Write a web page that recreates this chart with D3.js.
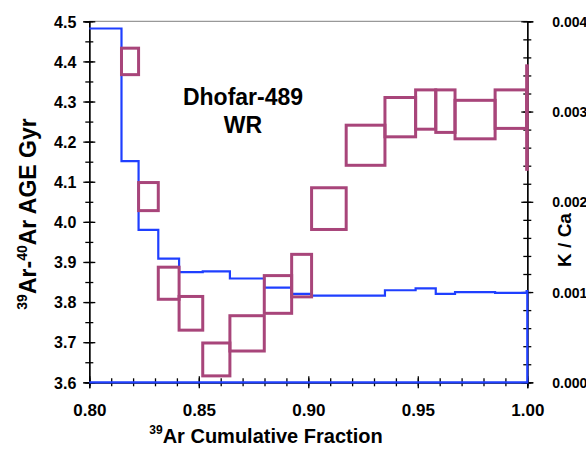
<!DOCTYPE html>
<html>
<head>
<meta charset="utf-8">
<script src="https://cdn.jsdelivr.net/npm/d3@7"></script>
<style>
  body { margin: 0; background: #fff; }
  svg { font-family: "Liberation Sans", Arial, sans-serif; font-weight: bold; }
</style>
</head>
<body>
<svg id="chart" width="586" height="449"></svg>
<script>
// step boundaries on the 39Ar cumulative fraction axis
const stepEdges = [0.800, 0.8147, 0.8225, 0.8315, 0.8410, 0.8518, 0.8642, 0.8799,
  0.8924, 0.9015, 0.9173, 0.9350, 0.9490, 0.9582, 0.9670, 0.9853, 0.9997, 1.000];
// K/Ca per step (right axis)
const kcaValues = [0.00392, 0.00245, 0.00169, 0.00137, 0.00122, 0.00123, 0.00115, 0.00105,
  0.00098, 0.00096, 0.00096, 0.00102, 0.00104, 0.00098, 0.00100, 0.00099, 0.00101];
// age (Gyr) and its error per step, first step has no age box
const ageValues = [null, 4.400, 4.063, 3.847, 3.772, 3.657, 3.722, 3.819, 3.866,
  4.033, 4.191, 4.261, 4.280, 4.276, 4.255, 4.281, 4.260];
const ageErrors = [null, 0.033, 0.035, 0.040, 0.042, 0.041, 0.044, 0.047, 0.053,
  0.052, 0.050, 0.049, 0.049, 0.053, 0.048, 0.048, 0.129];

const fracTicks = [0.80, 0.85, 0.90, 0.95, 1.00];
const ageTicks = [3.6, 3.7, 3.8, 3.9, 4.0, 4.1, 4.2, 4.3, 4.4, 4.5];
const kcaTicks = [0, 0.001, 0.002, 0.003, 0.004];

const svg = d3.select('#chart');
const mLeft = 89.3, mRight = 527.3, mTop = 21.3, mBottom = 382.3;

const x = d3.scaleLinear().domain([0.8, 1.0]).range([mLeft, mRight]);
const yAge = d3.scaleLinear().domain([3.6, 4.5]).range([mBottom, mTop]);
const yKca = d3.scaleLinear().domain([0, 0.004]).range([mBottom, mTop]);

// top frame line
svg.append('line')
  .attr('x1', mLeft).attr('x2', mRight).attr('y1', mTop).attr('y2', mTop)
  .attr('stroke', '#999').attr('stroke-width', 1.2);

// draws an axis whose ticks cross the line (both sides)
function crossAxis(axisFn, scale, values, size, fmt, transform) {
  const g = svg.append('g')
    .attr('transform', transform)
    .call(axisFn(scale).tickValues(values).tickSize(size).tickFormat(fmt || ''));
  g.attr('font-family', null);
  g.select('.domain').attr('stroke', '#000').attr('stroke-width', 1.3);
  g.selectAll('.tick line').attr('stroke', '#000').attr('stroke-width', 1.3);
  const vertical = axisFn === d3.axisLeft || axisFn === d3.axisRight;
  const sign = (axisFn === d3.axisLeft || axisFn === d3.axisTop) ? 1 : -1;
  g.selectAll('.tick line').attr(vertical ? 'x1' : 'y1', sign * size);
  return g;
}

// minor ticks
crossAxis(d3.axisBottom, x, x.ticks(20), 4, null, `translate(0,${mBottom})`);
crossAxis(d3.axisLeft, yAge, yAge.ticks(18), 4, null, `translate(${mLeft},0)`);
crossAxis(d3.axisRight, yKca, yKca.ticks(20), 4, null, `translate(${mRight},0)`);

// major ticks with labels
const xAxis = crossAxis(d3.axisBottom, x, fracTicks, 6, d3.format('.2f'), `translate(0,${mBottom})`);
xAxis.selectAll('.tick text')
  .attr('y', 34).attr('dy', 0).attr('font-size', 17).attr('fill', '#000');

const yAxis = crossAxis(d3.axisLeft, yAge, ageTicks, 6, d3.format('.1f'), `translate(${mLeft},0)`);
yAxis.selectAll('.tick text')
  .attr('x', -13).attr('dy', '0.36em').attr('font-size', 16).attr('fill', '#000');

const kAxis = crossAxis(d3.axisRight, yKca, kcaTicks, 6, d3.format('.3f'), `translate(${mRight},0)`);
kAxis.selectAll('.tick text')
  .attr('x', 25).attr('dy', '0.36em').attr('font-size', 14).attr('fill', '#000');

// K/Ca step line
const kcaPoints = [];
kcaValues.forEach((v, i) => {
  kcaPoints.push([x(stepEdges[i]), yKca(v)]);
  kcaPoints.push([x(stepEdges[i + 1]), yKca(v)]);
});
kcaPoints.push([x(stepEdges[stepEdges.length - 1]), yKca(0)]);
kcaPoints.push([x(stepEdges[0]), yKca(0)]);

svg.append('path')
  .attr('d', d3.line()(kcaPoints))
  .attr('fill', 'none')
  .attr('stroke', '#1f3fff')
  .attr('stroke-width', 2.2);

// age boxes
const boxes = ageValues
  .map((a, i) => ({ a, e: ageErrors[i], x0: stepEdges[i], x1: stepEdges[i + 1] }))
  .filter((d) => d.a !== null);

svg.append('g')
  .selectAll('rect')
  .data(boxes)
  .join('rect')
  .attr('x', (d) => x(d.x0))
  .attr('y', (d) => yAge(d.a + d.e))
  .attr('width', (d) => x(d.x1) - x(d.x0))
  .attr('height', (d) => yAge(d.a - d.e) - yAge(d.a + d.e))
  .attr('fill', 'none')
  .attr('stroke', '#a8457a')
  .attr('stroke-width', 3);

// sample title
svg.append('text').attr('x', 243).attr('y', 105).attr('text-anchor', 'middle')
  .attr('font-size', 23).text('Dhofar-489');
svg.append('text').attr('x', 243).attr('y', 133).attr('text-anchor', 'middle')
  .attr('font-size', 23).text('WR');

// axis titles
const xt = svg.append('text').attr('x', 266).attr('y', 443).attr('text-anchor', 'middle')
  .attr('font-size', 20);
xt.append('tspan').attr('font-size', 12).attr('dy', -9).text('39');
xt.append('tspan').attr('dy', 9).text('Ar Cumulative Fraction');

const yt = svg.append('text')
  .attr('transform', 'translate(36,214) rotate(-90)')
  .attr('text-anchor', 'middle').attr('font-size', 23);
yt.append('tspan').attr('font-size', 14).attr('dy', -9).text('39');
yt.append('tspan').attr('dy', 9).text('Ar-');
yt.append('tspan').attr('font-size', 14).attr('dy', -9).text('40');
yt.append('tspan').attr('dy', 9).text('Ar AGE Gyr');

svg.append('text')
  .attr('transform', 'translate(571,240) rotate(-90)')
  .attr('text-anchor', 'middle').attr('font-size', 19).text('K / Ca');
</script>
</body>
</html>
